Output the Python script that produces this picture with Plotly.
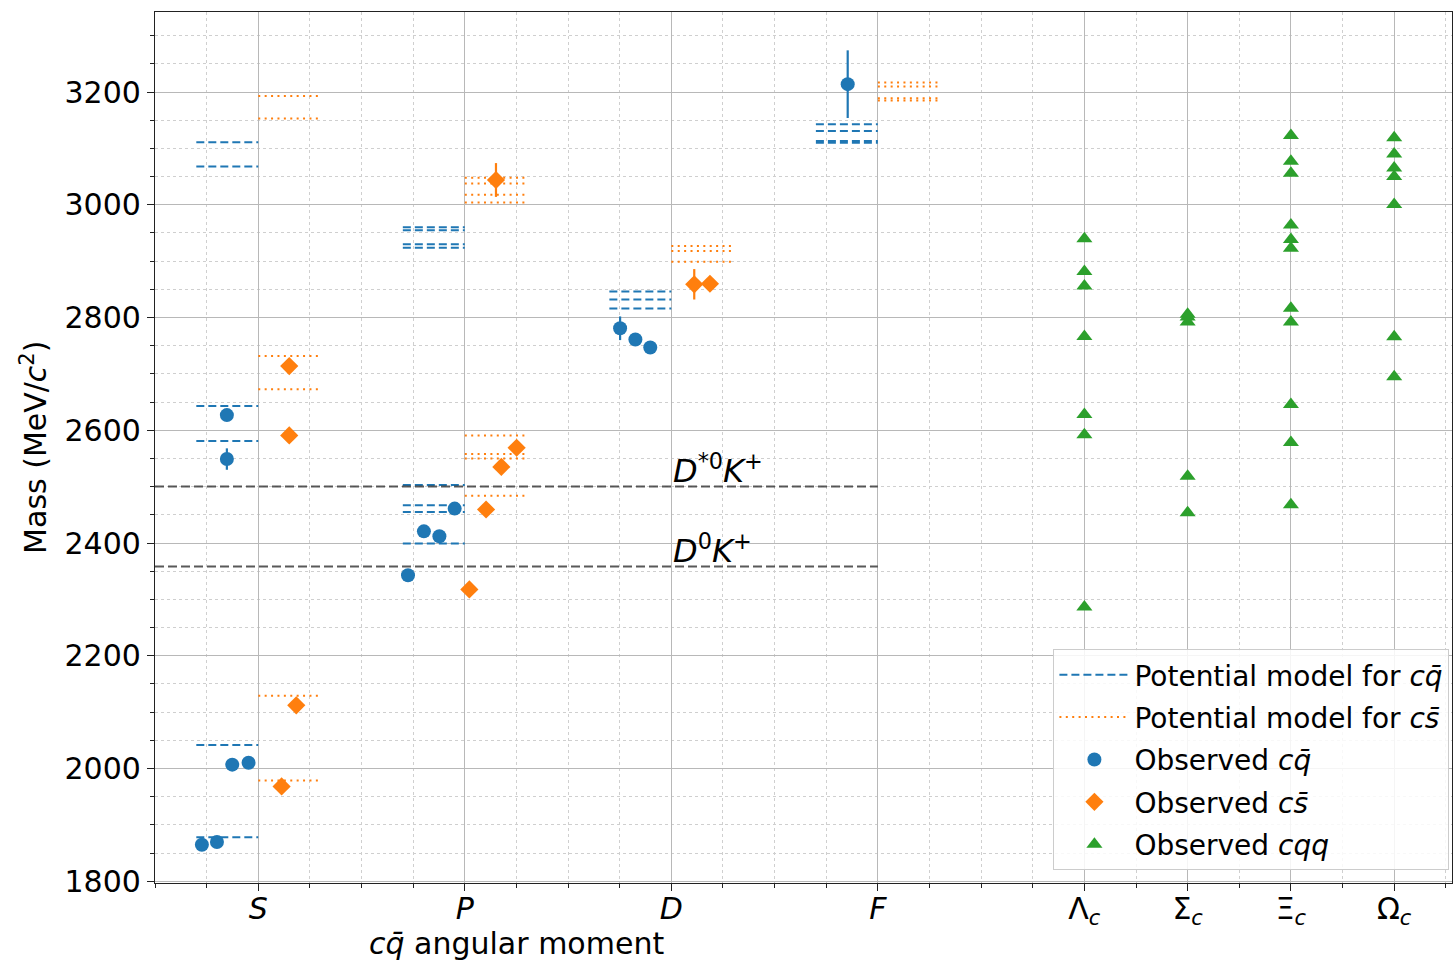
import numpy as np
import plotly.graph_objects as go

# ---------------- data ----------------
col_names = ["S", "P", "D", "F"]
col_centers = [1, 2, 3, 4]

# Potential model levels (MeV/c^2), per angular-momentum column
model_cq = {
    "S": [1878, 2042, 2581, 2643, 3068, 3111],
    "P": [2399, 2455, 2467, 2503, 2924, 2930, 2955, 2960],
    "D": [2816, 2832, 2846],
    "F": [3110, 3113, 3131, 3143],
}
model_cs = {
    "S": [1979, 2129, 2673, 2732, 3153, 3193],
    "P": [2484, 2550, 2558, 2591, 3004, 3018, 3038, 3048],
    "D": [2899, 2918, 2927],
    "F": [3185, 3189, 3210, 3217],
}

# Observed c qbar states
obs_cq_mass = [1864.8, 1869.7, 2006.9, 2010.3, 2549, 2627,
               2343, 2420.8, 2412, 2461.1,
               2781, 2761, 2747, 3214]
obs_cq_err = [0, 0, 0, 0, 19, 0, 0, 0, 0, 0, 21, 0, 0, 60]
obs_cq_x = [0.727, 0.80, 0.874, 0.953, 0.848, 0.848,
            1.725, 1.802, 1.877, 1.951,
            2.752, 2.826, 2.898, 3.854]

# Observed c sbar states
obs_cs_mass = [1968.3, 2112.2, 2591, 2714,
               2317.8, 2459.5, 2535.1, 2569.1, 3044,
               2859, 2860]
obs_cs_err = [0, 0, 0, 0, 0, 0, 0, 0, 30, 27, 0]
obs_cs_x = [1.113, 1.184, 1.15, 1.15,
            2.022, 2.103, 2.177, 2.251, 2.151,
            3.111, 3.187]

# Observed c q q baryons
baryon_names = ["Λ", "Σ", "Ξ", "Ω"]
baryon_x = [5, 5.5, 6, 6.5]
lambda_c = [2286.46, 2592.25, 2628.11, 2766.6, 2856.1, 2881.63, 2939.6]
sigma_c = [2453.97, 2518.41, 2792, 2801, 2806]
xi_c = [2467.9, 2578.4, 2645.9, 2791.9, 2816.7, 2923.0, 2938.6, 2964.3,
        3055.9, 3077.2, 3122.9]
omega_c = [2695.2, 2765.9, 3000.4, 3050.2, 3065.5, 3090.2, 3119.1]
baryon_masses = [lambda_c, sigma_c, xi_c, omega_c]

# Thresholds
thr_DstarK = 2500.5
thr_DK = 2358.5

# ---------------- styles ----------------
BLUE = "#1f77b4"
ORANGE = "#ff7f0e"
GREEN = "#2ca02c"
FONT = "DejaVu Sans"

fig = go.Figure()

def segments(levels, centers, names, x_off0, x_off1):
    xs, ys = [], []
    for name, xc in zip(names, centers):
        for m in levels[name]:
            xs += [xc + x_off0, xc + x_off1, None]
            ys += [m, m, None]
    return xs, ys

xb, yb = segments(model_cq, col_centers, col_names, -0.3, 0.0)
fig.add_trace(go.Scatter(x=xb, y=yb, mode="lines", legendgroup="g1",
                         line=dict(color=BLUE, width=2, dash="8px,4px"),
                         name="Potential model for <i>cq̄</i>"))
xo, yo = segments(model_cs, col_centers, col_names, 0.0, 0.3)
fig.add_trace(go.Scatter(x=xo, y=yo, mode="lines", legendgroup="g2",
                         line=dict(color=ORANGE, width=2, dash="2px,4.4px"),
                         name="Potential model for <i>cs̄</i>"))

# thresholds
for thr in [thr_DstarK, thr_DK]:
    fig.add_trace(go.Scatter(x=[0.5, 4.0], y=[thr, thr], mode="lines",
                             line=dict(color="rgba(60,60,60,0.85)", width=2, dash="9px,4px"),
                             showlegend=False, hoverinfo="skip"))

fig.add_trace(go.Scatter(x=obs_cq_x, y=obs_cq_mass, mode="markers", legendgroup="g3",
                         marker=dict(symbol="circle", size=14, color=BLUE),
                         error_y=dict(type="data", array=obs_cq_err, color=BLUE,
                                      thickness=2.2, width=0),
                         name="Observed <i>cq̄</i>"))
fig.add_trace(go.Scatter(x=obs_cs_x, y=obs_cs_mass, mode="markers", legendgroup="g4",
                         marker=dict(symbol="diamond", size=14, color=ORANGE),
                         error_y=dict(type="data", array=obs_cs_err, color=ORANGE,
                                      thickness=2.2, width=0),
                         name="Observed <i>cs̄</i>"))

gx, gy = [], []
for bx, masses in zip(baryon_x, baryon_masses):
    gx += [bx] * len(masses)
    gy += masses
fig.add_trace(go.Scatter(x=gx, y=gy, mode="markers", legendgroup="g5",
                         marker=dict(symbol="triangle-up", size=14, color=GREEN),
                         name="Observed <i>cqq</i>"))

# ---------------- axes ----------------
tickvals = col_centers + baryon_x
ticktext = [f"<i>{n}</i>" for n in col_names] + \
           [f"{n}<sub><i>c</i></sub>" for n in baryon_names]

grid_major = "#b8b8b8"
grid_minor = "#cfcfcf"

fig.update_xaxes(range=[0.5, 6.78], tickmode="array", tickvals=tickvals,
                 ticktext=ticktext, showgrid=True, gridcolor=grid_major, gridwidth=1.3,
                 showline=True, linecolor="#222", linewidth=1.3, mirror=True,
                 ticks="outside", ticklen=7, tickcolor="#222", zeroline=False,
                 ticklabelstandoff=-8,
                 tickfont=dict(size=30, family=FONT, color="black"),
                 minor=dict(tickmode="array", tickvals=list(np.arange(0.5, 6.8, 0.25)),
                            ticks="outside", ticklen=4, tickcolor="#222",
                            showgrid=True, gridcolor=grid_minor, griddash="dot",
                            gridwidth=1))
fig.update_yaxes(range=[1797, 3342], tickmode="linear", tick0=0, dtick=200,
                 showgrid=True, gridcolor=grid_major, gridwidth=1.3,
                 showline=True, linecolor="#222", linewidth=1.3, mirror=True,
                 ticks="outside", ticklen=7, tickcolor="#222", zeroline=False,
                 tickfont=dict(size=30, family=FONT, color="black"),
                 minor=dict(tickmode="linear", tick0=0, dtick=50,
                            ticks="outside", ticklen=4, tickcolor="#222",
                            showgrid=True, gridcolor=grid_minor, griddash="dot",
                            gridwidth=1))

annotations = [
    dict(x=3.0, y=thr_DstarK, xref="x", yref="y", xanchor="left", yanchor="bottom",
         text="<i>D</i><sup>*0</sup><i>K</i><sup>+</sup>", showarrow=False,
         font=dict(size=32, family=FONT, color="black"), yshift=-6),
    dict(x=3.0, y=thr_DK, xref="x", yref="y", xanchor="left", yanchor="bottom",
         text="<i>D</i><sup>0</sup><i>K</i><sup>+</sup>", showarrow=False,
         font=dict(size=32, family=FONT, color="black"), yshift=-6),
    dict(x=2.25, y=-0.069, xref="x", yref="paper", xanchor="center", yanchor="middle",
         text="<i>cq̄</i> angular moment", showarrow=False,
         font=dict(size=30, family=FONT, color="black")),
    dict(x=-0.093, y=0.5, xref="paper", yref="paper", xanchor="center", yanchor="middle",
         text="Mass (MeV/<i>c</i><sup>2</sup>)", showarrow=False, textangle=-90,
         font=dict(size=30, family=FONT, color="black")),
]

fig.update_layout(
    width=1453, height=962,
    margin=dict(l=155, r=1, t=12, b=79),
    plot_bgcolor="white", paper_bgcolor="white",
    font=dict(family=FONT, size=28, color="black"),
    annotations=annotations,
    legend=dict(x=0.998, xanchor="right", y=0.015, yanchor="bottom",
                bgcolor="rgba(255,255,255,0.85)", bordercolor="#cccccc", borderwidth=1,
                itemwidth=70, tracegroupgap=3,
                font=dict(size=28, family=FONT, color="black")),
    showlegend=True,
)

fig.write_html("out.html")
